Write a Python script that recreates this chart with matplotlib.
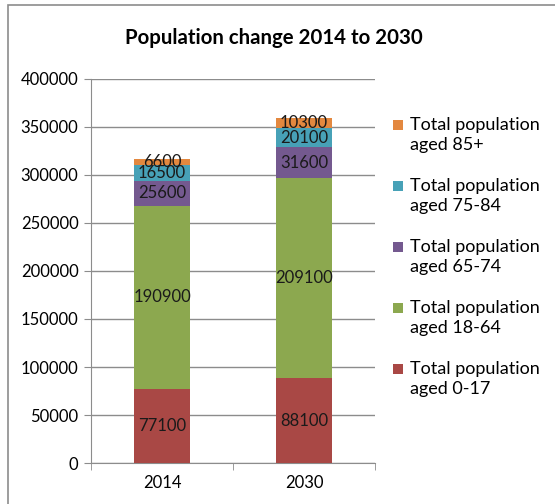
import numpy as np
import matplotlib.pyplot as plt
from matplotlib.patches import Rectangle

years = ['2014', '2030']
groups = ['Total population\naged 0-17', 'Total population\naged 18-64',
          'Total population\naged 65-74', 'Total population\naged 75-84',
          'Total population\naged 85+']
aged_0_17 = [77100, 88100]
aged_18_64 = [190900, 209100]
aged_65_74 = [25600, 31600]
aged_75_84 = [16500, 20100]
aged_85_plus = [6600, 10300]
series = [aged_0_17, aged_18_64, aged_65_74, aged_75_84, aged_85_plus]
colors = ['#A94845', '#8CA84F', '#74598F', '#47A1B7', '#E3883F']

plt.rcParams['font.family'] = ['Lato', 'DejaVu Sans']

W, H = 555, 504
fig = plt.figure(figsize=(W / 100, H / 100), dpi=100)

# chart frame (left and top edges visible)
fig.patches.append(Rectangle((8 / W, -0.1), 1.2, 1 - 5 / H + 0.1,
                             transform=fig.transFigure, fill=False,
                             edgecolor='#8c8c8c', linewidth=1.2))

ax = fig.add_axes([91 / W, 1 - 463 / H, (375 - 91) / W, (463 - 79) / H])
x = np.arange(len(years))
bottom = np.zeros(len(years))
for vals, col in zip(series, colors):
    vals = np.array(vals)
    ax.bar(x, vals, width=0.4, bottom=bottom, color=col, zorder=3)
    for xi, b, v in zip(x, bottom, vals):
        ax.text(xi, b + v / 2, f'{v}', ha='center', va='center',
                fontsize=12, color='#1a1a1a', zorder=4)
    bottom += vals

ax.set_xlim(-0.5, 1.5)
ax.set_ylim(0, 400000)
ax.set_yticks(np.arange(0, 400001, 50000))
ax.set_xticks(x)
ax.set_xticklabels(years)
ax.set_xticks([-0.5, 0.5, 1.5], minor=True)
ax.tick_params(axis='x', which='major', length=0, pad=9, labelsize=12)
ax.tick_params(axis='x', which='minor', length=5, color='#8c8c8c')
ax.tick_params(axis='y', length=5, color='#8c8c8c', labelsize=12, pad=4)
ax.yaxis.grid(True, color='#8c8c8c', linewidth=1, zorder=0)
for side in ['top', 'right']:
    ax.spines[side].set_visible(False)
for side in ['left', 'bottom']:
    ax.spines[side].set_color('#8c8c8c')

fig.text(274 / W, 1 - 38 / H, 'Population change 2014 to 2030',
         ha='center', va='center', fontsize=14.7, fontweight='bold')

# legend, top entry first; square sits beside the first text line
for i, (label, col) in enumerate(zip(groups[::-1], colors[::-1])):
    y_first = 125 + i * 61
    fig.patches.append(Rectangle((393 / W, 1 - (y_first + 5) / H), 10 / W, 10 / H,
                                 transform=fig.transFigure, facecolor=col,
                                 edgecolor='none'))
    fig.text(410 / W, 1 - (y_first - 8) / H, label, ha='left', va='top',
             fontsize=13, linespacing=1.33)

fig.savefig('out.png', dpi=100)
